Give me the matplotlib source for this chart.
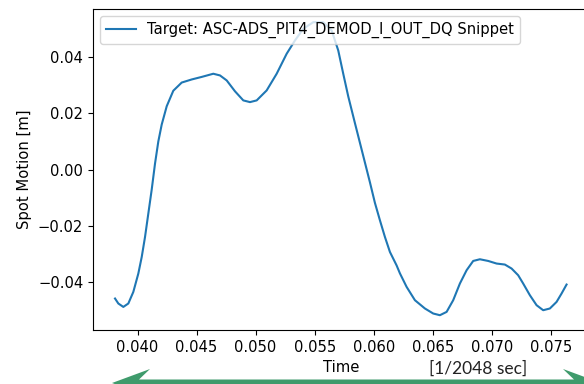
import numpy as np
import matplotlib
matplotlib.use("Agg")
import matplotlib.pyplot as plt
from matplotlib.patches import Polygon

# snippet of ASC-ADS_PIT4_DEMOD_I_OUT_DQ
time = [0.038095, 0.038375, 0.038798, 0.039221, 0.039644, 0.040068, 0.040356,
        0.040635, 0.040914, 0.041202, 0.041481, 0.041761, 0.042048, 0.042472,
        0.043030, 0.043741, 0.044588, 0.045434, 0.046416, 0.046983, 0.047550,
        0.048253, 0.048956, 0.049523, 0.050090, 0.050936, 0.051783, 0.052629,
        0.053332, 0.054034, 0.054881, 0.055727, 0.056438, 0.056997, 0.057420,
        0.057843, 0.058410, 0.058834, 0.059257, 0.059680, 0.060103, 0.060526,
        0.060950, 0.061373, 0.061940, 0.062219, 0.062785, 0.063489, 0.064336,
        0.065038, 0.065605, 0.066172, 0.066731, 0.067298, 0.067865, 0.068424,
        0.068991, 0.069694, 0.070404, 0.071107, 0.071674, 0.072233, 0.072656,
        0.073224, 0.073791, 0.074349, 0.074917, 0.075484, 0.075907, 0.076330]
motion = [-0.04573, -0.04750, -0.04871, -0.04750, -0.04339, -0.03687, -0.03098,
          -0.02389, -0.01560, -0.00705, 0.00213, 0.01000, 0.01600, 0.02250,
          0.02800, 0.03090, 0.03200, 0.03290, 0.03403, 0.03343, 0.03166,
          0.02780, 0.02457, 0.02396, 0.02457, 0.02811, 0.03403, 0.04112,
          0.04584, 0.04998, 0.05232, 0.05232, 0.04938, 0.04229, 0.03403,
          0.02600, 0.01650, 0.00950, 0.00250, -0.00450, -0.01180, -0.01797,
          -0.02389, -0.02921, -0.03400, -0.03680, -0.04160, -0.04633, -0.04927,
          -0.05105, -0.05165, -0.05048, -0.04633, -0.04041, -0.03570, -0.03240,
          -0.03180, -0.03240, -0.03332, -0.03368, -0.03509, -0.03747, -0.04041,
          -0.04456, -0.04810, -0.04988, -0.04927, -0.04693, -0.04396, -0.04077]

plt.rcParams["font.size"] = 10.6

W, H = 584, 384
fig = plt.figure(figsize=(W / 100, H / 100), dpi=100)
# right spine falls just past the image edge, like the cropped original
ax = fig.add_axes([93 / W, 1 - 330 / H, (589 - 93) / W, (330 - 9) / H])

ax.plot(time, motion, label="Target: ASC-ADS_PIT4_DEMOD_I_OUT_DQ Snippet")
ax.set_xlim(0.03623, 0.07823)
ax.set_ylim(-0.0569, 0.0570)
ax.set_xticks(np.arange(0.040, 0.0751, 0.005))
ax.set_yticks([-0.04, -0.02, 0.0, 0.02, 0.04])
ax.set_xlabel("Time")
ax.set_ylabel("Spot Motion [m]")
ax.legend(loc="upper left")

# overlay added on top of the figure: units text + green double arrow
fig.text(478 / W, 1 - 369 / H, "[1/2048 sec]", family="Lato", fontsize=12.5,
         color="#222222", ha="center", va="center")

arrow_px = [(112, 383), (150, 369), (139, 379.5), (574, 379.5), (563, 369),
            (601, 383), (563, 397), (574, 386.5), (139, 386.5), (150, 397)]
arrow = Polygon([(x / W, 1 - y / H) for x, y in arrow_px], closed=True,
                transform=fig.transFigure, facecolor="#3f9b6c",
                edgecolor="none", clip_on=False)
fig.add_artist(arrow)

fig.savefig("out.png", dpi=100)
